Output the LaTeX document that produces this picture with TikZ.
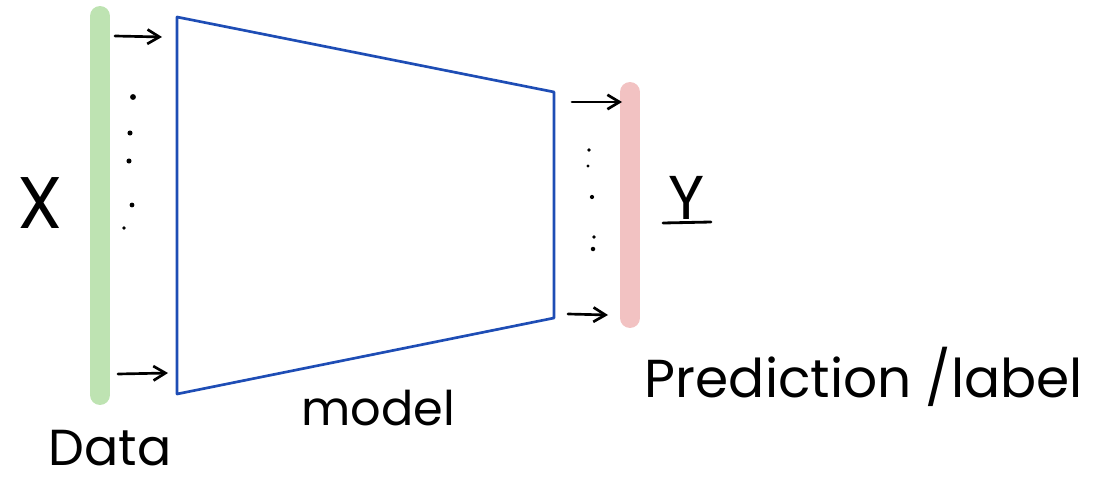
\documentclass[tikz,border=0pt]{standalone}
\usepackage{fontspec}
\setmainfont{Poppins}
\usepackage{tikz}
\usetikzlibrary{positioning,arrows.meta}
\usepackage{xcolor}
\definecolor{databar}{HTML}{BEE3B2}
\definecolor{predbar}{HTML}{F2C2C2}
\definecolor{modelblue}{HTML}{1E4DB5}

\begin{document}
\begin{tikzpicture}[x=0.025cm,y=-0.025cm,>={Straight Barb[length=3mm,width=3.6mm]},
  bar/.style={line width=14.2pt,line cap=round},
  inarrow/.style={->,line width=1.9pt,line cap=round},
  dotmark/.style={circle,fill=black,inner sep=0pt,minimum size=#1},
  hand/.style={inner sep=0pt,font=\fontsize{34}{38}\selectfont}]
\useasboundingbox (0,0) rectangle (1107,479);
% bars
\coordinate (dtop) at (100,16);
\coordinate (dbot) at (100,395);
\coordinate (ptop) at (630,92);
\coordinate (pbot) at (630,318);
\draw[bar,databar] (dtop) -- (dbot);
\draw[bar,predbar] (ptop) -- (pbot);
% model
\coordinate (m1) at (177,17);
\coordinate (m2) at (554,92);
\coordinate (m3) at (554,318);
\coordinate (m4) at (177,394);
\draw[modelblue,line width=1.9pt,line join=round] (m1) -- (m2) -- (m3) -- (m4) -- cycle;
% arrows
\coordinate (a1) at (115,36);
\coordinate (b1) at (162,37);
\coordinate (a2) at (118,374);
\coordinate (b2) at (168,373);
\coordinate (a3) at (572,102);
\coordinate (b3) at (622,102);
\coordinate (a4) at (568,314);
\coordinate (b4) at (608,315);
\draw[inarrow] (a1) -- (b1);
\draw[inarrow] (a2) -- (b2);
\draw[inarrow] (a3) -- (b3);
\draw[inarrow] (a4) -- (b4);
% dots
\foreach \px/\py/\ps in {133/97/4.2pt,130/133/3.6pt,129/161/3.6pt,132/205/3.4pt,124/228/2.6pt,
  589/150/2.6pt,588/166/2.4pt,592/197/3pt,594/237/2.8pt,593/249/3.2pt}
  \node[dotmark=\ps] at (\px,\py) {};
% labels
\node[hand,font=\fontsize{52}{56}\selectfont] (xlab) at (40,203) {X};
\node[hand,font=\fontsize{44}{48}\selectfont] (ylab) at (687,198) {Y};
\coordinate (yl) at (663,223);
\coordinate (yr) at (711,222);
\draw[line width=2pt,line cap=round] (yl) -- (yr);
\node[hand,font=\fontsize{36}{40}\selectfont] (data) at (110,448) {Data};
\node[hand] (model) at (378,408) {model};
\node[hand,font=\fontsize{38}{42}\selectfont] (pred) at (864,377) {Prediction /label};
\end{tikzpicture}
\end{document}
